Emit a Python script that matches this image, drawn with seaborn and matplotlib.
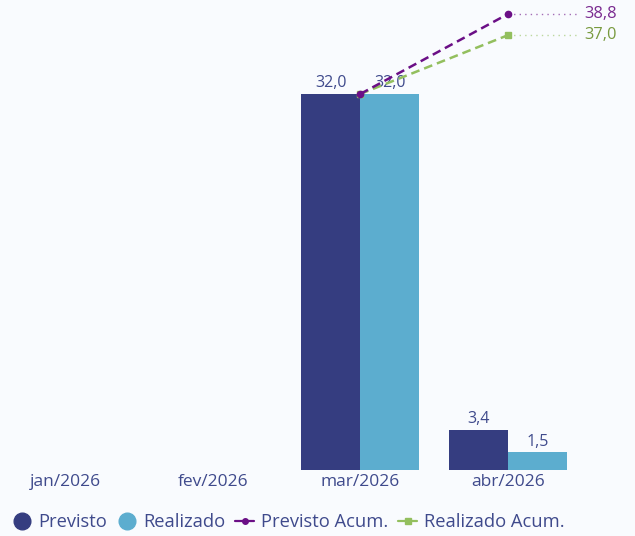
import numpy as np
import pandas as pd
import matplotlib
matplotlib.use("Agg")
import matplotlib.pyplot as plt
from matplotlib.lines import Line2D
import seaborn as sns

months = ["jan/2026", "fev/2026", "mar/2026", "abr/2026"]
previsto = [np.nan, np.nan, 32.0, 3.4]
realizado = [np.nan, np.nan, 32.0, 1.5]
previsto_acum = [np.nan, np.nan, 32.0, 38.8]
realizado_acum = [np.nan, np.nan, 32.0, 37.0]

C_PREV = "#353d80"
C_REAL = "#5cadcf"
C_PACUM = "#6b0f86"
C_RACUM = "#93bf5e"
TXT = "#3f4a8c"
BG = "#f9fbfe"

sns.set_theme(style="white")
plt.rcParams["font.family"] = ["Open Sans", "DejaVu Sans"]

fig = plt.figure(figsize=(6.35, 5.36), dpi=100, facecolor=BG)
W, H = 635, 536
ax = fig.add_axes([0, (536 - 470) / H, 581.6 / W, 470 / H])
ax.set_facecolor(BG)

df = pd.DataFrame({
    "mes": months * 2,
    "valor": previsto + realizado,
    "serie": ["Previsto"] * 4 + ["Realizado"] * 4,
})
sns.barplot(data=df, x="mes", y="valor", hue="serie", order=months,
            palette={"Previsto": C_PREV, "Realizado": C_REAL},
            width=0.8, saturation=1, ax=ax, legend=False, linewidth=0)

for cont in ax.containers:
    labels = ["" if np.isnan(v) else f"{v:.1f}".replace(".", ",") for v in cont.datavalues]
    ax.bar_label(cont, labels=labels, padding=2, color=TXT, fontsize=11.5)

xpos = np.arange(len(months))
ax.plot(xpos, previsto_acum, color=C_PACUM, ls=(0, (3.5, 2)), lw=1.8,
        marker="o", ms=4.5, zorder=5)
ax.plot(xpos, realizado_acum, color=C_RACUM, ls=(0, (3.5, 2)), lw=1.8,
        marker="s", ms=4.5, zorder=4)

# end labels with dotted leaders
for vals, col, tcol in [(previsto_acum, C_PACUM, "#7a2a90"), (realizado_acum, C_RACUM, "#789a3e")]:
    last = vals[-1]
    ax.plot([xpos[-1], 3.49], [last, last], color=col, ls=(0, (1, 3)), lw=1,
            alpha=0.6, clip_on=False, zorder=3)
    ax.text(3.52, last, f"{last:.1f}".replace(".", ","), color=tcol, fontsize=11.8,
            va="center", ha="left", clip_on=False)

ax.set_xlim(-0.441, 3.5)
ax.set_ylim(0, 40)
ax.set_xlabel("")
ax.set_ylabel("")
ax.set_yticks([])
ax.set_xticks(xpos)
ax.set_xticklabels(months, color=TXT, fontsize=12.5)
ax.tick_params(axis="x", length=0, pad=3)
for s in ax.spines.values():
    s.set_visible(False)

handles = [
    Line2D([], [], ls="", marker="o", ms=12, color=C_PREV),
    Line2D([], [], ls="", marker="o", ms=12, color=C_REAL),
    Line2D([], [], color=C_PACUM, marker="o", ms=4, lw=1.6),
    Line2D([], [], color=C_RACUM, marker="s", ms=4, lw=1.6),
]
leg = fig.legend(handles, ["Previsto", "Realizado", "Previsto Acum.", "Realizado Acum."],
                 loc="center left", bbox_to_anchor=(13 / W, 1 - 522 / H), ncol=4,
                 frameon=False, fontsize=13.2, handlelength=1.0, handletextpad=0.4,
                 columnspacing=0.55, borderaxespad=0, borderpad=0)
for t in leg.get_texts():
    t.set_color(TXT)

fig.savefig("out.png", dpi=100, facecolor=BG)
